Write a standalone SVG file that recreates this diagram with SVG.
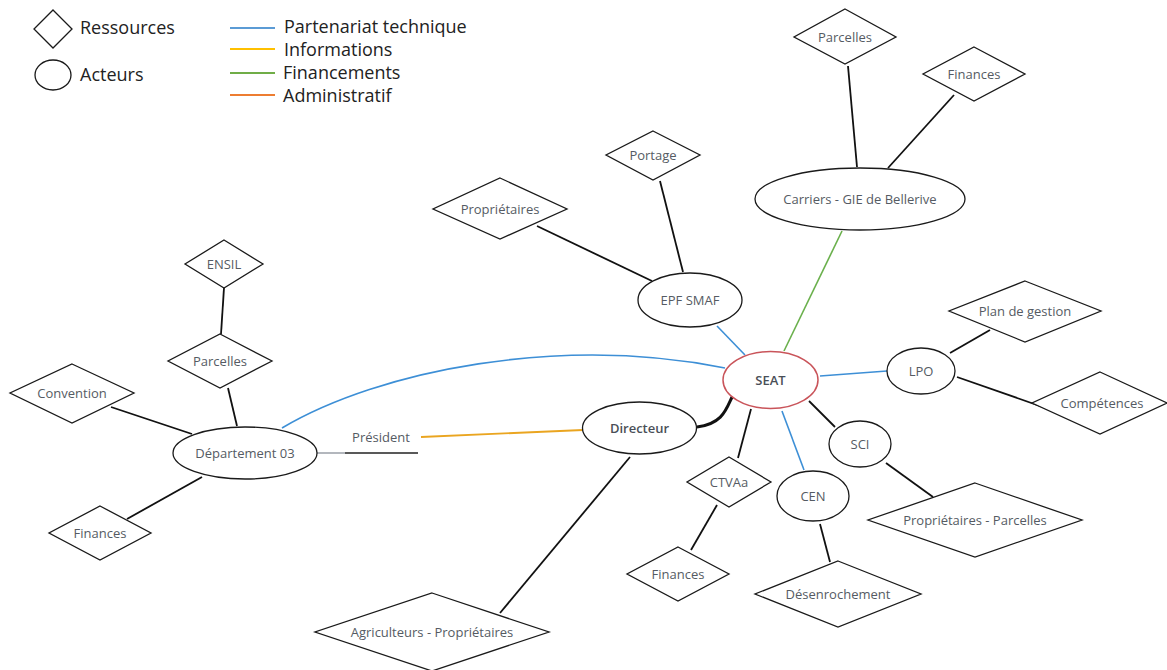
<svg xmlns="http://www.w3.org/2000/svg" width="1167" height="670" viewBox="0 0 1167 670">
<style>
.shape{fill:#fff;stroke:#1a1a1a;stroke-width:1.3}
.lbl{font-family:"Open Sans","Noto Sans",sans-serif;font-size:13px;fill:#555b63;text-anchor:middle;dominant-baseline:central}
.bold{font-weight:600;fill:#4a4f57}
.leg{font-family:"Open Sans","Noto Sans",sans-serif;font-size:18px;fill:#222}
.c{fill:none;stroke:#111;stroke-width:1.8}
.blue{fill:none;stroke:#3d8fd6;stroke-width:1.6}
.yellow{fill:none;stroke:#eaa520;stroke-width:1.8}
.green{fill:none;stroke:#6ab04c;stroke-width:1.6}
</style>
<rect width="1167" height="670" fill="#fff"/>
<g id="legend">
<polygon class="shape" points="53,10 72,29 53,48 34,29"/>
<text class="leg" x="80" y="34">Ressources</text>
<ellipse class="shape" cx="53" cy="75" rx="18" ry="15"/>
<text class="leg" x="80" y="81">Acteurs</text>
<line x1="230" y1="28" x2="275" y2="28" stroke="#5b9bd5" stroke-width="2"/>
<line x1="230" y1="49" x2="275" y2="49" stroke="#ffc000" stroke-width="2"/>
<line x1="230" y1="73" x2="275" y2="73" stroke="#70ad47" stroke-width="2"/>
<line x1="230" y1="95" x2="275" y2="95" stroke="#ed7d31" stroke-width="2"/>
<text class="leg" x="284" y="33">Partenariat technique</text>
<text class="leg" x="284" y="56">Informations</text>
<text class="leg" x="283" y="79">Financements</text>
<text class="leg" x="283" y="102">Administratif</text>
</g>
<g id="connectors">
<line class="c" x1="660" y1="181" x2="683" y2="272"/>
<line class="c" x1="537" y1="226" x2="652" y2="281"/>
<line class="blue" x1="717" y1="326" x2="745" y2="355"/>
<line class="c" x1="848" y1="66" x2="857" y2="167"/>
<line class="c" x1="954" y1="95" x2="888" y2="168"/>
<line class="green" x1="842" y1="231" x2="784" y2="351"/>
<line class="blue" x1="820" y1="376" x2="887" y2="371"/>
<line class="c" x1="950" y1="353" x2="990" y2="330"/>
<line class="c" x1="957" y1="377" x2="1060" y2="413"/>
<line class="c" x1="809" y1="401" x2="835" y2="427"/>
<line class="blue" x1="782" y1="411" x2="804" y2="470"/>
<line class="c" x1="751" y1="409" x2="738" y2="458"/>
<path d="M697 427 C722 424 726 410 732 397" fill="none" stroke="#111" stroke-width="3"/>
<line class="c" x1="717" y1="505" x2="691" y2="550"/>
<line class="c" x1="820" y1="524" x2="830" y2="562"/>
<line class="c" x1="886" y1="463" x2="933" y2="497"/>
<line class="c" x1="630" y1="457" x2="500" y2="613"/>
<line class="yellow" x1="421" y1="437" x2="583" y2="430"/>
<line x1="317" y1="453" x2="345" y2="453" stroke="#8a9099" stroke-width="1.3"/>
<line x1="345" y1="453" x2="418" y2="453" stroke="#222" stroke-width="1.3"/>
<text class="lbl" x="381" y="437">Président</text>
<path class="blue" d="M282 428 C380 370 560 335 725 368"/>
<line class="c" x1="224" y1="288" x2="221" y2="334"/>
<line class="c" x1="228" y1="388" x2="237" y2="426"/>
<line class="c" x1="111" y1="407" x2="192" y2="434"/>
<line class="c" x1="202" y1="477" x2="127" y2="519"/>
</g>
<g id="seat"><ellipse cx="770.5" cy="380" rx="47.5" ry="28.5" fill="#fff" stroke="#c9545a" stroke-width="1.5"/><text class="lbl bold" x="770.5" y="380">SEAT</text></g>
<g id="directeur"><ellipse class="shape" cx="639.5" cy="428" rx="57" ry="26"/><text class="lbl bold" x="639.5" y="428">Directeur</text></g>
<g id="departement"><ellipse class="shape" cx="245" cy="453" rx="72" ry="26"/><text class="lbl" x="245" y="453">Département 03</text></g>
<g id="epf"><ellipse class="shape" cx="690" cy="300" rx="52" ry="27"/><text class="lbl" x="690" y="300">EPF SMAF</text></g>
<g id="carriers"><ellipse class="shape" cx="860" cy="199" rx="105" ry="31"/><text class="lbl" x="860" y="199">Carriers - GIE de Bellerive</text></g>
<g id="lpo"><ellipse class="shape" cx="921" cy="371" rx="34" ry="23"/><text class="lbl" x="921" y="371">LPO</text></g>
<g id="sci"><ellipse class="shape" cx="860" cy="444" rx="31" ry="23"/><text class="lbl" x="860" y="444">SCI</text></g>
<g id="cen"><ellipse class="shape" cx="813" cy="496" rx="36" ry="25"/><text class="lbl" x="813" y="496">CEN</text></g>
<g id="portage"><polygon class="shape" points="653,131 700,155 653,180 606,155"/><text class="lbl" x="653" y="155">Portage</text></g>
<g id="proprietaires"><polygon class="shape" points="500,178 567,209 500,239 433,209"/><text class="lbl" x="500" y="209">Propriétaires</text></g>
<g id="parcelles-top"><polygon class="shape" points="845,9 896,37 845,64 794,37"/><text class="lbl" x="845" y="37">Parcelles</text></g>
<g id="finances-top"><polygon class="shape" points="974,47 1025,74 974,101 923,74"/><text class="lbl" x="974" y="74">Finances</text></g>
<g id="plan-gestion"><polygon class="shape" points="1025,281 1101,311 1025,342 949,311"/><text class="lbl" x="1025" y="311">Plan de gestion</text></g>
<g id="competences"><polygon class="shape" points="1100,372 1167,403 1100,434 1032,403"/><text class="lbl" x="1102" y="403">Compétences</text></g>
<g id="ctvaa"><polygon class="shape" points="729,457 771,482 729,507 687,482"/><text class="lbl" x="729" y="482">CTVAa</text></g>
<g id="finances-bottom"><polygon class="shape" points="678,547 729,574 678,601 627,574"/><text class="lbl" x="678" y="574">Finances</text></g>
<g id="desenrochement"><polygon class="shape" points="838,561 921,594 838,627 755,594"/><text class="lbl" x="838" y="594">Désenrochement</text></g>
<g id="proprietaires-parcelles"><polygon class="shape" points="975,483 1082,520 975,557 868,520"/><text class="lbl" x="975" y="520">Propriétaires - Parcelles</text></g>
<g id="ensil"><polygon class="shape" points="224,240 263,264 224,288 185,264"/><text class="lbl" x="224" y="264">ENSIL</text></g>
<g id="parcelles-left"><polygon class="shape" points="220,334 272,361 220,388 168,361"/><text class="lbl" x="220" y="361">Parcelles</text></g>
<g id="convention"><polygon class="shape" points="72,364 134,393 72,423 10,393"/><text class="lbl" x="72" y="393">Convention</text></g>
<g id="finances-left"><polygon class="shape" points="100,506 151,533 100,560 49,533"/><text class="lbl" x="100" y="533">Finances</text></g>
<g id="agriculteurs"><polygon class="shape" points="432,593 549,632 432,671 315,632"/><text class="lbl" x="432" y="632">Agriculteurs - Propriétaires</text></g>
</svg>
